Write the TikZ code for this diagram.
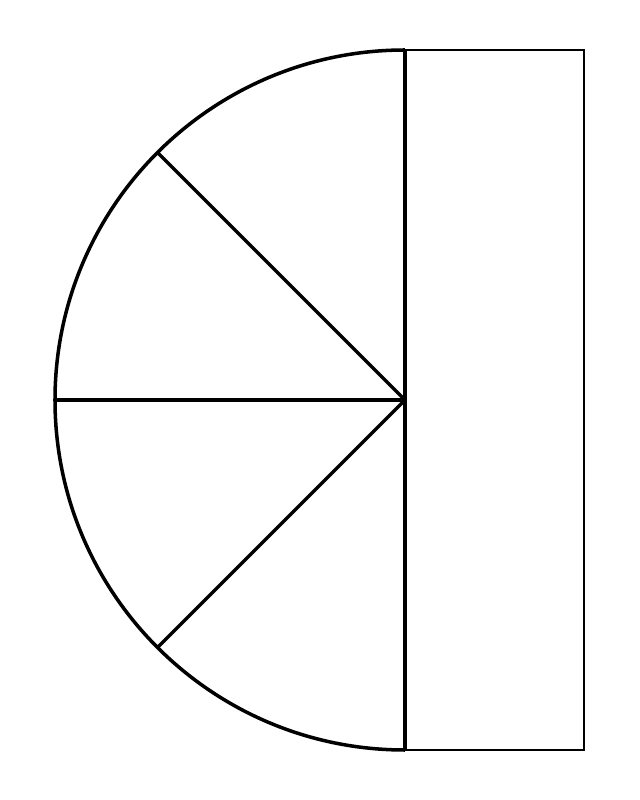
\documentclass[tikz,border=0pt]{standalone}
\usepackage{tikz}

\begin{document}
\begin{tikzpicture}[x=0.03cm, y=0.03cm]
\useasboundingbox (0,0) rectangle (640,800);
\coordinate (O) at (405,400);
\coordinate (T) at (405,750);
\coordinate (B) at (405,50);
% strip beside the half disc
\draw [-,line width=1pt] (B) rectangle (584,750);
% half disc
\draw [-,line width=3pt] (T) arc (90:270:350);
\draw [-,line width=3pt] (T) -- (B);
\foreach \ang in {135,180,225}
  \draw [-,line width=3pt] (O) -- ++(\ang:350);
\end{tikzpicture}
\end{document}
